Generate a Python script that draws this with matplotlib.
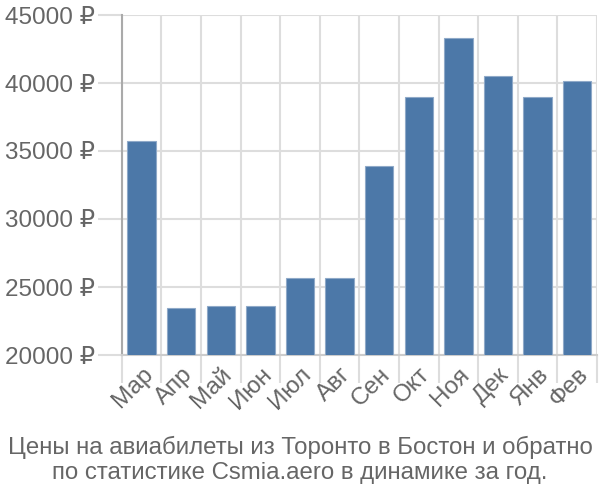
import matplotlib
matplotlib.use("Agg")
import matplotlib.pyplot as plt
import numpy as np
from matplotlib.ticker import FixedLocator

plt.rcParams['font.family'] = ['Liberation Sans', 'DejaVu Sans']

months = ["Мар", "Апр", "Май", "Июн", "Июл", "Авг", "Сен", "Окт", "Ноя", "Дек", "Янв", "Фев"]
prices = [35700, 23450, 23600, 23600, 25650, 25650, 33900, 38950, 43300, 40550, 38950, 40150]
yticks = [20000, 25000, 30000, 35000, 40000, 45000]
title = "Цены на авиабилеты из Торонто в Бостон и обратно\nпо статистике Csmia.aero в динамике за год."

fig = plt.figure(figsize=(6, 5), dpi=100)
ax = fig.add_axes([0.203, 0.29, 0.792, 0.68])

x = np.arange(len(months))
ax.bar(x, prices, width=0.72, color="#4c78a8", edgecolor="#8fa9c8", linewidth=0.8, zorder=3)

ax.set_xlim(-0.5, len(months) - 0.5)
ax.set_ylim(20000, 45000)

ax.set_yticks(yticks)
ax.set_yticklabels([f"{v} ₽" for v in yticks])
ax.set_xticks(x)
ax.set_xticklabels(months, rotation=45, ha="right", va="top", rotation_mode="anchor")
ax.xaxis.set_minor_locator(FixedLocator(np.arange(-0.5, len(months), 1.0)))

ax.tick_params(axis="x", which="major", length=0, pad=6, labelsize=17.5, labelcolor="#666666")
ax.tick_params(axis="x", which="minor", length=20, width=1.5, color="#dddddd")
ax.tick_params(axis="y", which="major", length=17, width=1.5, color="#dddddd", pad=2,
               labelsize=17.5, labelcolor="#666666")

ax.grid(True, axis="y", which="major", color="#dddddd", linewidth=1.5, zorder=0)
ax.grid(True, axis="x", which="minor", color="#dddddd", linewidth=1.5, zorder=0)

for s in ["top", "right"]:
    ax.spines[s].set_visible(False)
ax.spines["left"].set_color("#aaaaaa")
ax.spines["left"].set_linewidth(1.5)
ax.spines["bottom"].set_color("#cccccc")
ax.spines["bottom"].set_linewidth(1.5)

fig.text(0.5, 0.08, title, ha="center", va="center", fontsize=17.3, color="#666666",
         linespacing=1.22)

fig.savefig("out.png", dpi=100)
